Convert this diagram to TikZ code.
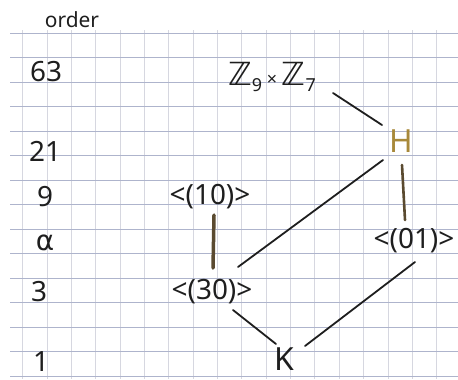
\documentclass[tikz,border=0pt]{standalone}
\usepackage{fontspec}
\setmainfont{Noto Sans}
\newfontfamily\djv{DejaVu Sans}
\usetikzlibrary{calc}
\definecolor{hgrid}{HTML}{AEB4CC}
\definecolor{vgrid}{HTML}{D6D7E0}
\definecolor{ink}{HTML}{1E1E1E}
\definecolor{gold}{HTML}{A8893A}
\definecolor{brown}{HTML}{5A4A30}
\tikzset{
  lbl/.style={inner sep=0pt, text=ink, font=\fontsize{28}{28}\selectfont},
  ordlbl/.style={inner sep=0pt, text=ink, font=\fontsize{28}{28}\selectfont},
  edge/.style={draw=ink, line width=1.8bp, line cap=round},
}
\begin{document}
\begin{tikzpicture}[x=1bp,y=-1bp]
\useasboundingbox (0,0) rectangle (458,379);
\fill[white] (0,0) rectangle (458,379);
% grid
\foreach \k in {0,...,17} {
  \draw[vgrid, line width=0.9bp] ({22.7+24.35*\k},30) -- ({22.7+24.35*\k},379);
}
\foreach \k in {0,...,14} {
  \draw[hgrid, line width=1bp] (10,{33+24.5*\k}) -- (458,{33+24.5*\k});
}
% order column
\node[inner sep=0pt, text=ink, font=\fontsize{21}{21}\selectfont] (ord) at (72,20) {order};
\node[ordlbl] (o63) at (46,72) {63};
\node[ordlbl] (o21) at (45,151) {21};
\node[ordlbl] (o9) at (45,197) {9};
\node[ordlbl, font=\djv\fontsize{28}{28}\selectfont] (o7) at (45,243) {α};
\node[ordlbl] (o3) at (39,292) {3};
\node[ordlbl] (o1) at (41,362) {1};
% lattice
\node[lbl] (zz) at (272,77) {{\djv\fontsize{32}{32}\selectfont ℤ}\raisebox{-6bp}{\fontsize{18}{18}\selectfont 9}\,{\fontsize{18}{18}\selectfont ×}\,{\djv\fontsize{32}{32}\selectfont ℤ}\raisebox{-6bp}{\fontsize{18}{18}\selectfont 7}};
\node[lbl, text=gold, font=\fontsize{32}{32}\selectfont] (H) at (401,141) {H};
\node[lbl] (t10) at (210,197) {<(10)>};
\node[lbl] (o01) at (414,241) {<(01)>};
\node[lbl] (t30) at (212,292) {<(30)>};
\node[lbl, font=\fontsize{32}{32}\selectfont] (K) at (284,359) {K};
% connectors
\draw[edge] ($(zz)+(61,16)$) -- ($(H)+(-19,-16)$);
\draw[edge, draw=brown, line width=2.6bp] ($(H)+(1,24)$) -- ($(o01)+(-9,-21)$);
\draw[edge] ($(H)+(-18,19)$) -- ($(t30)+(26,-25)$);
\draw[edge, draw=brown, line width=3.5bp] ($(t10)+(4,18)$) -- ($(t30)+(1,-24)$);
\draw[edge] ($(t30)+(21,18)$) -- ($(K)+(-8,-15)$);
\draw[edge] ($(o01)+(1,21)$) -- ($(K)+(21,-13)$);
\end{tikzpicture}
\end{document}
